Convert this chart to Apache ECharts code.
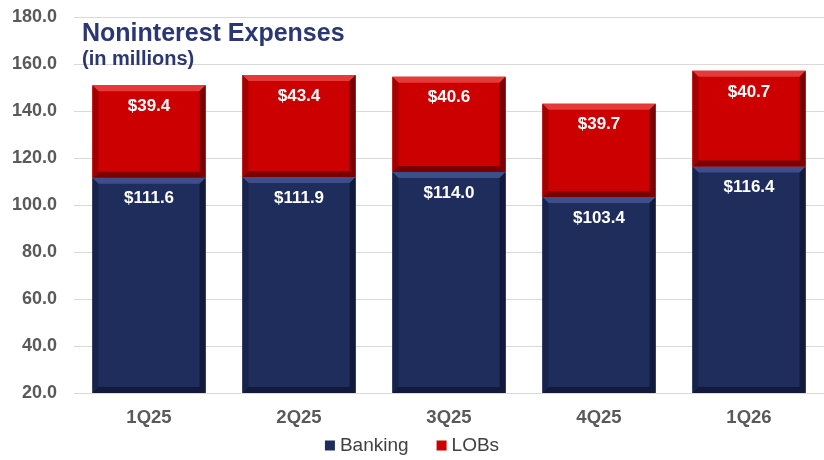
<!DOCTYPE html>
<html>
<head>
<meta charset="utf-8">
<script src="https://cdn.jsdelivr.net/npm/echarts@6/dist/echarts.min.js"></script>
<style>
  html, body { margin: 0; padding: 0; background: #ffffff; }
  #chart { width: 824px; height: 460px; }
</style>
</head>
<body>
<div id="chart"></div>
<script>
// Quarterly noninterest expenses, $ millions
const quarters = ['1Q25', '2Q25', '3Q25', '4Q25', '1Q26'];
const banking = [111.6, 111.9, 114.0, 103.4, 116.4];
const lobs = [39.4, 43.4, 40.6, 39.7, 40.7];
const yTicks = { min: 20, max: 180, step: 20 };

const FONT = 'Arial, "Liberation Sans", sans-serif';
const NAVY = { base: '#1f2d5d', light: '#3c4f88', dark: '#111a3a', side: '#17234b' };
const RED = { base: '#cc0000', light: '#e43a3a', dark: '#7a0000', side: '#a30000' };

// Beveled bar segment drawn from [categoryIndex, low, high, labelValue]
function bevelRenderer(pal) {
  return function (params, api) {
    const i = api.value(0), low = api.value(1), high = api.value(2), val = api.value(3);
    const pLow = api.coord([i, low]);
    const pHigh = api.coord([i, high]);
    const w = api.size([1, 0])[0] * 0.755;
    const x0 = pLow[0] - w / 2, x1 = pLow[0] + w / 2;
    const y0 = pHigh[1], y1 = pLow[1];
    const b = 6;
    const poly = (pts, fill) => ({ type: 'polygon', shape: { points: pts }, style: { fill: fill } });
    return {
      type: 'group',
      children: [
        { type: 'rect', shape: { x: x0, y: y0, width: w, height: y1 - y0 }, style: { fill: pal.base } },
        poly([[x0, y0], [x1, y0], [x1 - b, y0 + b], [x0 + b, y0 + b]], pal.light),
        poly([[x0, y1], [x1, y1], [x1 - b, y1 - b], [x0 + b, y1 - b]], pal.dark),
        poly([[x0, y0], [x0 + b, y0 + b], [x0 + b, y1 - b], [x0, y1]], pal.side),
        poly([[x1, y0], [x1 - b, y0 + b], [x1 - b, y1 - b], [x1, y1]], pal.dark),
        {
          type: 'text',
          style: {
            text: '$' + val.toFixed(1),
            x: pLow[0], y: y0 + 21,
            align: 'center', verticalAlign: 'middle',
            fill: '#ffffff',
            font: 'bold 17px ' + FONT
          }
        }
      ]
    };
  };
}

const bankingData = quarters.map((q, i) => [i, yTicks.min, banking[i], banking[i]]);
const lobsData = quarters.map((q, i) => [i, banking[i], banking[i] + lobs[i], lobs[i]]);

const chart = echarts.init(document.getElementById('chart'), null, { renderer: 'canvas' });
chart.setOption({
  animation: false,
  backgroundColor: '#ffffff',
  title: {
    text: 'Noninterest Expenses',
    subtext: '(in millions)',
    left: 77, top: 17,
    itemGap: 2,
    textStyle: { color: '#2b3674', fontSize: 25, fontWeight: 'bold', fontFamily: FONT },
    subtextStyle: { color: '#2b3674', fontSize: 20, fontWeight: 'bold', fontFamily: FONT }
  },
  grid: { left: 74, top: 17, width: 756, height: 376 },
  legend: {
    top: 436, left: 'center',
    itemWidth: 10, itemHeight: 10, itemGap: 28, padding: 0,
    icon: 'rect',
    textStyle: { color: '#404040', fontSize: 19, fontFamily: FONT },
    data: [
      { name: 'Banking', itemStyle: { color: NAVY.base } },
      { name: 'LOBs', itemStyle: { color: RED.base } }
    ]
  },
  xAxis: {
    type: 'category',
    data: quarters,
    axisLine: { show: false },
    axisTick: { show: false },
    axisLabel: { color: '#595959', fontSize: 18.5, fontWeight: 'bold', margin: 15, fontFamily: FONT }
  },
  yAxis: {
    type: 'value',
    min: yTicks.min, max: yTicks.max, interval: yTicks.step,
    axisLine: { show: false },
    axisTick: { show: false },
    splitLine: { lineStyle: { color: '#d9d9d9', width: 1 } },
    axisLabel: {
      color: '#595959', fontSize: 18, fontWeight: 'bold', margin: 17,
      fontFamily: FONT,
      formatter: v => v.toFixed(1)
    }
  },
  series: [
    { name: 'Banking', type: 'custom', renderItem: bevelRenderer(NAVY), data: bankingData, encode: { x: 0, y: [1, 2] }, itemStyle: { color: NAVY.base } },
    { name: 'LOBs', type: 'custom', renderItem: bevelRenderer(RED), data: lobsData, encode: { x: 0, y: [1, 2] }, itemStyle: { color: RED.base } }
  ]
});
</script>
</body>
</html>
